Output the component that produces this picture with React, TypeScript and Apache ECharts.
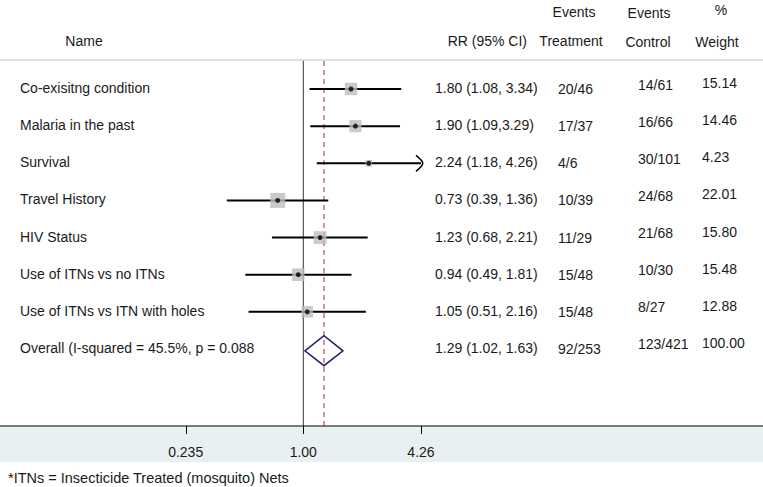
import React, { useEffect, useRef } from "react";
import * as echarts from "echarts";

const names = [
  "Co-exisitng condition",
  "Malaria in the past",
  "Survival",
  "Travel History",
  "HIV Status",
  "Use of ITNs vs no ITNs",
  "Use of ITNs vs ITN with holes",
  "Overall (I-squared = 45.5%, p = 0.088",
];
const rr = [1.8, 1.9, 2.24, 0.73, 1.23, 0.94, 1.05, 1.29];
const lo = [1.08, 1.09, 1.18, 0.39, 0.68, 0.49, 0.51, 1.02];
const hi = [3.34, 3.29, 4.26, 1.36, 2.21, 1.81, 2.16, 1.63];
const rrText = [
  "1.80 (1.08, 3.34)",
  "1.90 (1.09,3.29)",
  "2.24 (1.18, 4.26)",
  "0.73 (0.39, 1.36)",
  "1.23 (0.68, 2.21)",
  "0.94 (0.49, 1.81)",
  "1.05 (0.51, 2.16)",
  "1.29 (1.02, 1.63)",
];
const treatment = ["20/46", "17/37", "4/6", "10/39", "11/29", "15/48", "15/48", "92/253"];
const control = ["14/61", "16/66", "30/101", "24/68", "21/68", "10/30", "8/27", "123/421"];
const weight = ["15.14", "14.46", "4.23", "22.01", "15.80", "15.48", "12.88", "100.00"];
const tickValues = [0.235, 1.0, 4.26];
const tickLabels = ["0.235", "1.00", "4.26"];
const footnote = "*ITNs = Insecticide Treated (mosquito) Nets";

const FONT = '"Liberation Sans", Arial, Helvetica, sans-serif';
const TXT = "#1a1a1a";
const BAND = "#e9f0f2";
const L = Math.log;
// rows are placed at y = -rowIndex (first row on top)
const Y_MAX = 0.781;
const AXIS_Y = -9.074;
const Y_MIN = -10.043;
const X_MIN = -3.734;
const X_MAX = 5.66;

export default function App() {
  const ref = useRef<HTMLDivElement>(null);
  useEffect(() => {
    const chart = echarts.init(ref.current!, null, { renderer: "svg" });
    const nStudies = names.length - 1;
    const overall = nStudies;
    const studyIdx = Array.from({ length: nStudies }, (_, i) => i);
    const allIdx = Array.from({ length: names.length }, (_, i) => i);
    const maxTick = tickValues[tickValues.length - 1];
    const rowY = (i: number) => -i;

    const ciData = studyIdx.map((i) => [L(lo[i]), L(hi[i]), rowY(i), hi[i] >= maxTick ? 1 : 0]);
    const sqData = studyIdx.map((i) => ({
      value: [L(rr[i]), rowY(i)],
      symbolSize: 3.2 * Math.sqrt(parseFloat(weight[i])),
    }));
    const dotData = studyIdx.map((i) => [L(rr[i]), rowY(i)]);

    const txt = (text: string, x: number, y: number, align = "left", size = 14) => ({
      type: "text",
      x,
      y,
      style: {
        text,
        fill: TXT,
        font: `${size}px ${FONT}`,
        align,
        verticalAlign: "middle",
      },
    });

    const vline = (xv: number, color: string, type: any) => ({
      type: "line",
      z: 1,
      silent: true,
      showSymbol: false,
      symbol: "none",
      lineStyle: { color, width: 1, type },
      data: [
        [xv, AXIS_Y],
        [xv, Y_MAX],
      ],
    });

    const option: any = {
      animation: false,
      backgroundColor: "transparent",
      grid: { left: 0, right: 0, top: 60, bottom: 25, outerBoundsMode: "none", containLabel: false },
      xAxis: {
        type: "value",
        show: false,
        min: X_MIN,
        max: X_MAX,
        splitLine: { show: false },
      },
      yAxis: {
        type: "value",
        min: Y_MIN,
        max: Y_MAX,
        show: false,
        splitLine: { show: false },
      },
      graphic: [
        { type: "line", z: 5, shape: { x1: 0, y1: 60, x2: 763, y2: 60 }, style: { stroke: "#d6d6d6", lineWidth: 1.5 } },
        txt("Name", 84, 41, "center"),
        txt("RR (95% CI)", 527, 41, "right"),
        txt("Events", 574, 12, "center"),
        txt("Treatment", 571, 41, "center"),
        txt("Events", 649, 13, "center"),
        txt("Control", 648, 42, "center"),
        txt("%", 721, 10, "center"),
        txt("Weight", 717, 42, "center"),
        txt(footnote, 8, 478, "left", 14.5),
      ],
      series: [
        vline(0, "#333333", "solid"),
        vline(L(rr[overall]), "#b02a3a", [5, 4]),
        {
          // x axis line
          type: "line",
          z: 10,
          silent: true,
          showSymbol: false,
          symbol: "none",
          lineStyle: { color: "#000000", width: 1, type: "solid" },
          data: [
            [X_MIN, AXIS_Y],
            [X_MAX, AXIS_Y],
          ],
        },
        {
          // x axis ticks and tick labels
          type: "custom",
          z: 10,
          silent: true,
          encode: { x: 0, y: 1 },
          data: tickValues.map((v) => [L(v), AXIS_Y]),
          renderItem: (params: any, api: any) => {
            const p = api.coord([api.value(0), api.value(1)]);
            const x = Math.round(p[0]) + 0.5;
            return {
              type: "group",
              children: [
                {
                  type: "line",
                  shape: { x1: x, y1: p[1], x2: x, y2: p[1] + 8 },
                  style: { stroke: "#000000", lineWidth: 1 },
                },
                txt(tickLabels[params.dataIndex], p[0], p[1] + 26, "center"),
              ],
            };
          },
        },
        {
          type: "custom",
          z: 3,
          silent: true,
          encode: { x: [0, 1], y: 2 },
          data: ciData,
          renderItem: (params: any, api: any) => {
            const y = api.value(2);
            const p1 = api.coord([api.value(0), y]);
            const p2 = api.coord([api.value(1), y]);
            const children: any[] = [
              {
                type: "line",
                shape: { x1: p1[0], y1: p1[1], x2: p2[0], y2: p2[1] },
                style: { stroke: "#000", lineWidth: 2 },
              },
            ];
            if (api.value(3) === 1) {
              children.push({
                type: "bezierCurve",
                shape: {
                  x1: p2[0] - 5,
                  y1: p2[1] - 8,
                  x2: p2[0] - 5,
                  y2: p2[1] + 8,
                  cpx1: p2[0] + 4,
                  cpy1: p2[1] - 1,
                  cpx2: p2[0] + 4,
                  cpy2: p2[1] + 1,
                },
                style: { stroke: "#000", lineWidth: 1.5, fill: "none" },
              });
            }
            return { type: "group", children };
          },
        },
        {
          type: "scatter",
          z: 4,
          silent: true,
          symbol: "rect",
          itemStyle: { color: "#bdbdbd" },
          data: sqData,
        },
        {
          type: "scatter",
          z: 5,
          silent: true,
          symbol: "circle",
          symbolSize: 5,
          itemStyle: { color: "#000" },
          data: dotData,
        },
        {
          type: "custom",
          z: 4,
          silent: true,
          encode: { x: [0, 1, 2], y: 3 },
          data: [[L(lo[overall]), L(hi[overall]), L(rr[overall]), rowY(overall)]],
          renderItem: (params: any, api: any) => {
            const y = api.value(3);
            const a = api.coord([api.value(0), y - 0.05]);
            const b = api.coord([api.value(2), y + 0.36]);
            const c = api.coord([api.value(1), y - 0.05]);
            const d = api.coord([api.value(2), y - 0.45]);
            return {
              type: "polygon",
              shape: { points: [a, b, c, d] },
              style: { stroke: "#1f1f6e", lineWidth: 1.5, fill: "rgba(255,255,255,0)" },
            };
          },
        },
        {
          type: "custom",
          z: 6,
          silent: true,
          encode: { x: 0, y: 1 },
          data: allIdx.map((i) => [0, rowY(i)]),
          renderItem: (params: any, api: any) => {
            const i = params.dataIndex;
            const y = api.coord([0, api.value(1)])[1];
            return {
              type: "group",
              children: [
                txt(names[i], 20, y - 1),
                txt(rrText[i], 435, y - 1),
                txt(treatment[i], 558, y),
                txt(control[i], 638, y - 4.5),
                txt(weight[i], 702, y - 6),
              ],
            };
          },
        },
      ],
    };
    chart.setOption(option);
    return () => chart.dispose();
  }, []);
  return (
    <div
      ref={ref}
      style={{
        position: "fixed",
        left: 0,
        top: 0,
        width: 763,
        height: 487,
        background: `linear-gradient(to bottom, #ffffff 0px, #ffffff 426px, ${BAND} 426px, ${BAND} 462px, #ffffff 462px)`,
      }}
    />
  );
}
